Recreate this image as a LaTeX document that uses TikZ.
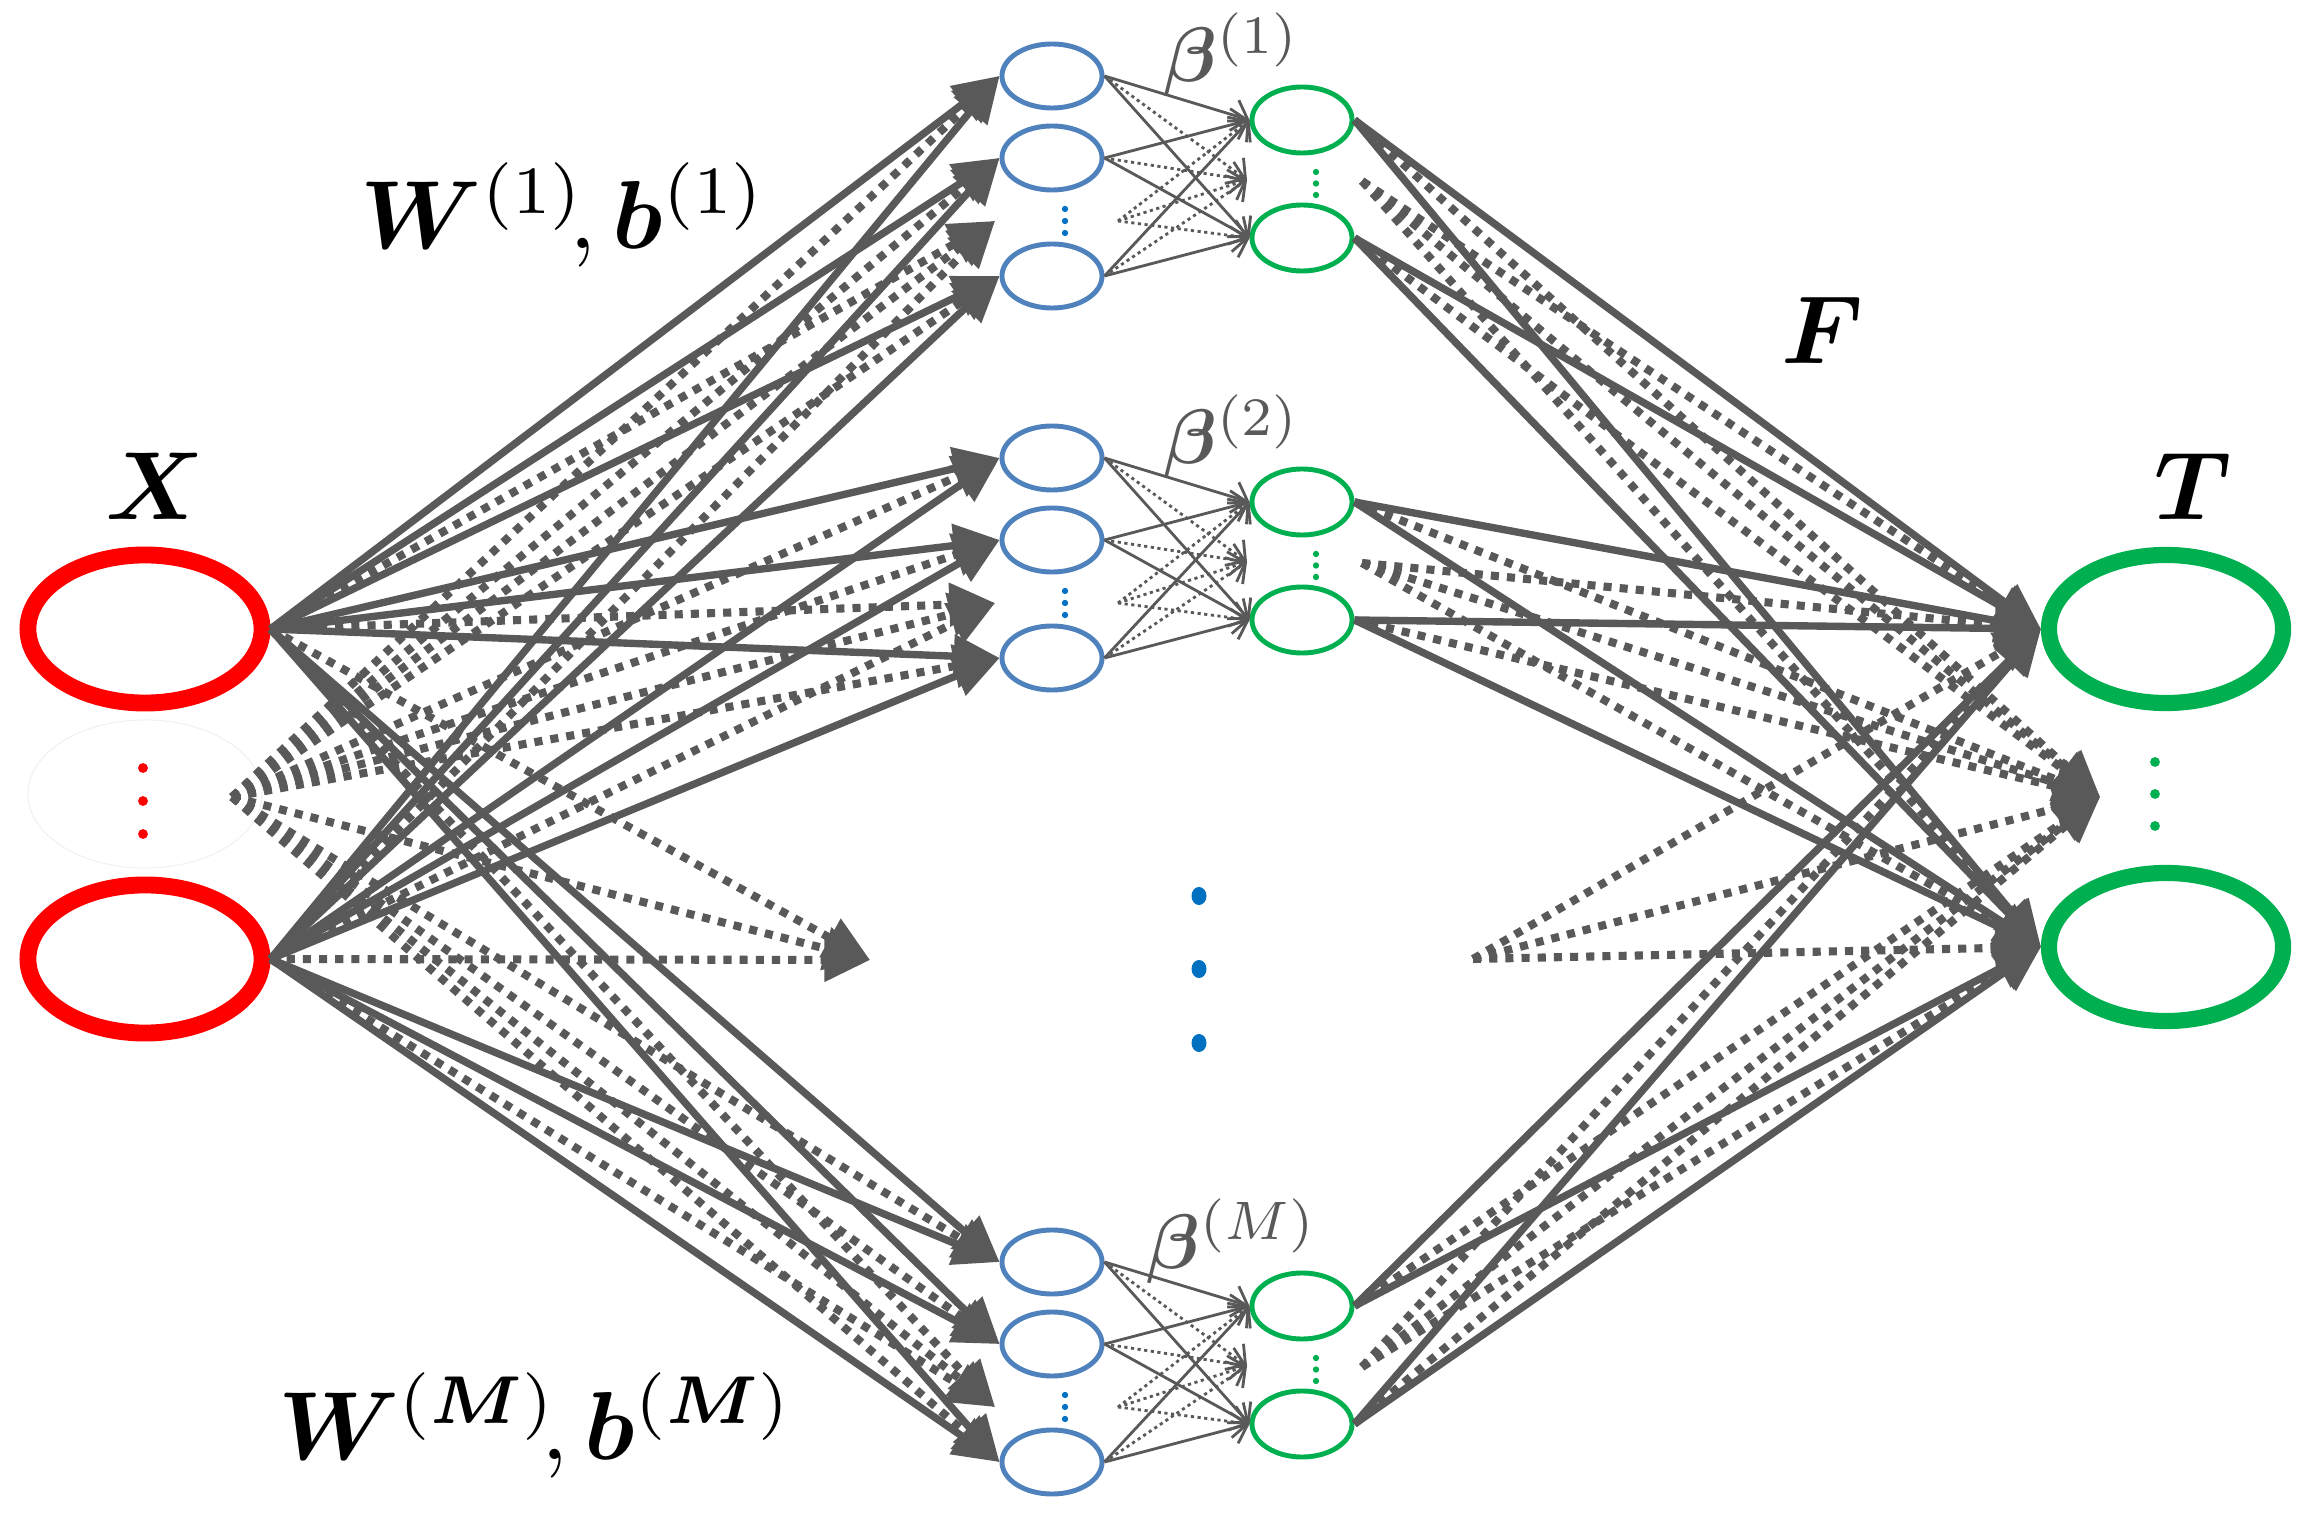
\documentclass[tikz,border=0pt]{standalone}
\usepackage{amsmath,bm}
\usetikzlibrary{shapes.geometric,arrows.meta}
\definecolor{lineGray}{HTML}{595959}
\definecolor{inRed}{HTML}{FF0000}
\definecolor{hidBlue}{HTML}{4F81BD}
\definecolor{outGreen}{HTML}{00B050}
\definecolor{midBlue}{HTML}{0070C0}
\begin{document}
\begin{tikzpicture}[x=0.01cm,y=-0.01cm,line join=round]
	\tikzset{inode/.style={ellipse,draw=inRed,line width=4.8pt,minimum width=2.34cm,minimum height=1.48cm,inner sep=0pt},
		tnode/.style={inode,draw=outGreen,line width=4.6pt},
		hnode/.style={ellipse,draw=hidBlue,line width=1.4pt,minimum width=1cm,minimum height=0.64cm,inner sep=0pt},
		onode/.style={hnode,draw=outGreen,minimum height=0.66cm},
		wline/.style={lineGray,line width=2.1pt,-{Triangle[length=13pt,width=12pt]}},
		wdots/.style={wline,line width=2.3pt,dash pattern=on 2.3pt off 2.3pt},
		bline/.style={lineGray,line width=0.8pt,-{Straight Barb[length=4pt,width=9pt]}},
		bdots/.style={bline,dash pattern=on 0.9pt off 1pt},
		bigtext/.style={scale=2.75,inner sep=0pt},
		betatext/.style={scale=2.2,inner sep=0pt,text=lineGray}}
	\useasboundingbox (0,0) rectangle (2321,1513);
	\node[inode] (x1) at (145,629) {};
	\node[inode] (x2) at (145,959) {};
	\node[inode,draw=black!6,line width=0.3pt] (x0) at (145,794) {};
	\node[tnode] (t1) at (2166,629) {};
	\node[tnode] (t2) at (2166,947) {};
	\node[bigtext] (xlab) at (155,486) {$\bm{X}$};
	\node[bigtext] (tlab) at (2193,486) {$\bm{T}$};
	\node[bigtext] (flab) at (1823,330) {$\bm{F}$};
	\node[bigtext,anchor=base] (wone) at (564,249) {$\bm{W}^{(1)}\!,\bm{b}^{(1)}$};
	\node[bigtext,anchor=base] (wm) at (536,1459) {$\bm{W}^{(\bm{M})}\!,\bm{b}^{(\bm{M})}$};
	\foreach \y in {768,801,834} \fill[inRed] (143,\y) circle (1.4pt);
	\foreach \y in {762,794,826} \fill[outGreen] (2155,\y) circle (1.4pt);
	\foreach \y in {896,969,1043} \fill[midBlue] (1199,\y) ellipse (0.075cm and 0.09cm);
	\coordinate (x0out) at (232,797);
	\coordinate (cin) at (870,960);
	\coordinate (cout) at (1473,959);
	\coordinate (tin) at (2100,797);
	\foreach \g/\dy in {1/0,2/382,M/1186}{
		\foreach \h/\hy in {a/76,b/158,c/276} \node[hnode] (b\g\h) at (1052,\hy+\dy) {};
		\foreach \o/\oy in {a/120,b/238} \node[onode] (g\g\o) at (1302,\oy+\dy) {};
		\node[betatext,anchor=base] (beta\g) at (1232,82+\dy) {$\bm{\beta}^{(\g)}$};
		\foreach \k in {0,1,2} {
			\fill[midBlue] (1065,209+12*\k+\dy) circle (0.9pt);
			\fill[outGreen] (1316,172+11.5*\k+\dy) circle (0.9pt);
		}
		\coordinate (bin\g) at (995,221+\dy);
		\coordinate (bout\g) at (1118,221+\dy);
		\coordinate (gin\g) at (1247,180+\dy);
		\coordinate (gout\g) at (1362,181+\dy);
		\foreach \h in {a,b,c}{
			\draw[wline] (x1.east) -- (b\g\h.west);
			\draw[wline] (x2.east) -- (b\g\h.west);
			\draw[wdots] (x0out) -- (b\g\h.west);
			\foreach \o in {a,b} \draw[bline] (b\g\h.east) -- (g\g\o.west);
			\draw[bdots] (b\g\h.east) -- (gin\g);
		}
		\foreach \s in {x1.east,x0out,x2.east} \draw[wdots] (\s) -- (bin\g);
		\foreach \o in {a,b} \draw[bdots] (bout\g) -- (g\g\o.west);
		\draw[bdots] (bout\g) -- (gin\g);
		\foreach \o in {a,b}{
			\draw[wline] (g\g\o.east) -- (t1.west);
			\draw[wline] (g\g\o.east) -- (t2.west);
			\draw[wdots] (g\g\o.east) -- (tin);
		}
		\foreach \t in {t1.west,t2.west,tin} \draw[wdots] (gout\g) -- (\t);
	}
	\foreach \s in {x1.east,x0out,x2.east} \draw[wdots] (\s) -- (cin);
	\foreach \t in {t1.west,t2.west,tin} \draw[wdots] (cout) -- (\t);
\end{tikzpicture}
\end{document}
